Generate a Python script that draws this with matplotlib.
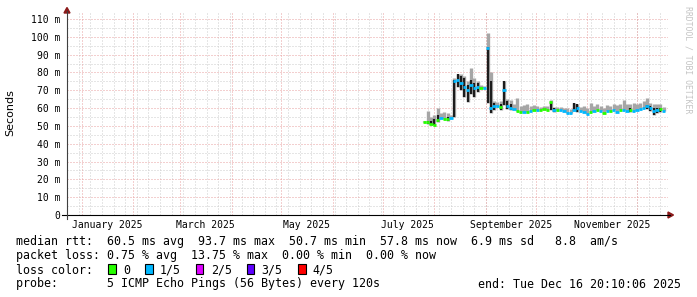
import numpy as np
import matplotlib
matplotlib.use('Agg')
import matplotlib.pyplot as plt
import matplotlib.dates as mdates
from matplotlib.collections import LineCollection
from matplotlib.lines import Line2D
from matplotlib.patches import Rectangle, Polygon

W, H = 697, 297

# smokeping samples, one every 2 days, in days after 2025-01-01
day = np.arange(206, 352, 2)
# median rtt (ms)
median = [52.2, 52.0, 51.0, 50.7, 53.5, 54.5, 54.0, 54.0, 54.5, 75.0,
          76.0, 74.0, 72.0, 70.0, 73.0, 71.0, 72.0, 71.5, 71.0, 93.7,
          60.0, 61.0, 61.0, 60.5, 70.0, 61.0, 60.0, 59.5, 58.5, 58.0,
          58.0, 58.0, 58.5, 59.0, 59.0, 59.0, 59.5, 59.0, 63.5, 59.0,
          59.0, 59.0, 58.5, 57.5, 57.0, 59.0, 60.0, 58.5, 58.0, 56.5,
          58.0, 58.5, 59.0, 58.5, 57.0, 58.5, 58.5, 59.0, 58.0, 59.0,
          59.0, 58.5, 59.0, 58.5, 59.0, 59.5, 60.0, 61.0, 60.0, 58.5,
          59.0, 59.5, 58.5]
# lost pings out of 5
loss = [0, 0, 0, 0, 0, 1, 0, 0, 1, 1,
        1, 1, 1, 1, 1, 1, 1, 0, 1, 1,
        1, 1, 1, 0, 1, 1, 1, 1, 0, 0,
        1, 0, 1, 0, 1, 0, 0, 0, 0, 1,
        0, 1, 1, 1, 1, 1, 1, 1, 1, 1,
        0, 1, 0, 1, 0, 1, 0, 1, 1, 0,
        1, 1, 0, 1, 1, 1, 1, 1, 1, 1,
        1, 0, 1]
# highest ping (light smoke top)
smoke_top = [53.0, 58.4, 55.0, 56.0, 60.2, 57.0, 58.0, 57.0, 56.0, 77.0,
             79.0, 79.0, 78.0, 75.0, 82.3, 77.0, 75.0, 73.0, 72.5, 102.0,
             80.0, 64.0, 63.5, 64.0, 75.0, 65.0, 64.5, 62.0, 65.5, 61.0,
             61.5, 62.0, 61.0, 61.5, 61.0, 60.5, 61.0, 61.0, 64.5, 60.5,
             60.5, 60.5, 60.0, 60.0, 59.5, 63.0, 62.5, 60.5, 61.0, 60.0,
             62.7, 61.0, 62.0, 61.0, 60.0, 61.5, 61.0, 62.0, 61.5, 62.0,
             64.5, 62.0, 62.5, 63.0, 62.0, 63.0, 64.0, 65.5, 63.0, 62.0,
             62.0, 62.0, 60.5]
nan = np.nan
# dense smoke range
dark_lo = [nan, 51.0, 50.5, 50.7, 52.0, nan, nan, 53.0, nan, 55.0,
           72.0, 70.0, 66.0, 63.6, 68.0, 66.0, 69.0, nan, nan, 63.0,
           57.0, 59.0, nan, 59.0, 61.7, 59.5, 59.0, nan, nan, nan,
           nan, nan, nan, nan, nan, nan, nan, nan, 59.0, 58.0,
           nan, nan, nan, nan, nan, 58.5, 58.0, nan, nan, nan,
           nan, nan, nan, nan, nan, nan, nan, nan, nan, nan,
           nan, nan, 58.0, nan, nan, nan, nan, 59.5, 58.5, 56.1,
           57.0, 58.0, nan]
dark_hi = [nan, 53.0, 53.0, 54.0, 56.0, nan, nan, 55.0, nan, 76.0,
           79.0, 78.0, 77.0, 73.0, 76.0, 74.0, 74.0, nan, nan, 94.0,
           75.0, 63.0, nan, 62.0, 75.0, 64.0, 62.0, nan, nan, nan,
           nan, nan, nan, nan, nan, nan, nan, nan, 63.6, 60.0,
           nan, nan, nan, nan, nan, 62.7, 62.0, nan, nan, nan,
           nan, nan, nan, nan, nan, nan, nan, nan, nan, nan,
           nan, nan, 60.0, nan, nan, nan, nan, 61.5, 61.0, 60.3,
           60.0, 60.0, nan]

month_labels = ['January 2025', 'March 2025', 'May 2025',
                'July 2025', 'September 2025', 'November 2025']
month_label_dates = ['2025-01-16', '2025-03-16', '2025-05-16',
                     '2025-07-16', '2025-09-16', '2025-11-16']
y_ticks = [0, 10, 20, 30, 40, 50, 60, 70, 80, 90, 100, 110]
y_ticklabels = ['0', '10 m', '20 m', '30 m', '40 m', '50 m', '60 m',
                '70 m', '80 m', '90 m', '100 m', '110 m']

legend_lines = [
    'median rtt:  60.5 ms avg  93.7 ms max  50.7 ms min  57.8 ms now  6.9 ms sd   8.8  am/s',
    'packet loss: 0.75 % avg  13.75 % max  0.00 % min  0.00 % now',
    'loss color:',
    'probe:       5 ICMP Echo Pings (56 Bytes) every 120s',
]
loss_names = ['0', '1/5', '2/5', '3/5', '4/5']
loss_colors = ['#26ff00', '#00b8ff', '#dd00ff', '#5e00ff', '#ff0000']
end_text = 'end: Tue Dec 16 20:10:06 2025'

MONO = 'DejaVu Sans Mono'


def px(x):
    return x / W


def py(y):
    return 1 - y / H


fig = plt.figure(figsize=(W / 100, H / 100), dpi=100)
fig.patch.set_facecolor('white')
ax = fig.add_axes([px(67), py(215), (668 - 67) / W, (215 - 12) / H])

t0 = np.datetime64('2025-01-01')
x0 = mdates.date2num(t0)
x = mdates.date2num(t0 + day.astype('timedelta64[D]'))
median = np.array(median)
smoke_top = np.array(smoke_top)
dark_lo = np.array(dark_lo)
dark_hi = np.array(dark_hi)

ax.set_xlim(x0 - 9.0, x0 + 352.6)
ax.set_ylim(0, 113.9)

# grid: weekly (Mondays) + monthly, 5 ms + 10 ms
weeks = mdates.date2num(np.arange(np.datetime64('2024-12-23'), np.datetime64('2025-12-20'),
                                  np.timedelta64(7, 'D')))
months = mdates.date2num(np.arange(np.datetime64('2025-01'), np.datetime64('2026-01')).astype('datetime64[D]'))
dots = (0, (1, 2))
xt = ax.get_xaxis_transform()
yt = ax.get_yaxis_transform()
ax.vlines(weeks, 0, 1, transform=xt, colors='#cccccc', linewidth=0.72, linestyles=dots, zorder=0)
ax.hlines(np.arange(5, 114, 10), 0, 1, transform=yt, colors='#cccccc', linewidth=0.72, linestyles=dots, zorder=0)
ax.vlines(months, 0, 1, transform=xt, colors='#e8a0a0', linewidth=0.72, linestyles=dots, zorder=1)
ax.hlines(y_ticks[1:], 0, 1, transform=yt, colors='#e8a0a0', linewidth=0.72, linestyles=dots, zorder=1)

# smoke
bottom = np.fmin(median, dark_lo)
ax.vlines(x, bottom, smoke_top, colors='#a6a6a6', linewidth=2.4, zorder=2)
ok = ~np.isnan(dark_lo)
ax.vlines(x[ok], dark_lo[ok], dark_hi[ok], colors='#1c1c1c', linewidth=1.6, zorder=3)

# median, coloured by loss
segs = [[(xi - 1, m), (xi + 1, m)] for xi, m in zip(x, median)]
cols = [loss_colors[l] for l in loss]
ax.add_collection(LineCollection(segs, colors=cols, linewidths=2.0, capstyle='butt', zorder=4))

for s in ax.spines.values():
    s.set_visible(False)
ax.set_yticks(y_ticks)
ax.set_yticklabels(y_ticklabels, family=MONO, fontsize=7)
ax.set_xticks(mdates.date2num(np.array(month_label_dates, dtype='datetime64[D]')))
ax.set_xticklabels(month_labels, family=MONO, fontsize=7)
ax.tick_params(axis='y', length=0, pad=5)
ax.tick_params(axis='x', length=0, pad=3.5)

# axes with arrows
fig.add_artist(Line2D([px(62), px(670)], [py(215), py(215)], color='black', lw=0.8,
                      transform=fig.transFigure))
fig.add_artist(Line2D([px(67), px(67)], [py(219), py(11)], color='#404040', lw=0.8,
                      transform=fig.transFigure))
fig.add_artist(Polygon([(px(64), py(13)), (px(70), py(13)), (px(67), py(7.5))], closed=True,
                       color='#8b1a1a', transform=fig.transFigure))
fig.add_artist(Polygon([(px(668), py(212)), (px(668), py(218)), (px(673.5), py(215))], closed=True,
                       color='#8b1a1a', transform=fig.transFigure))

fig.text(px(10.5), py(113), 'Seconds', rotation=90, ha='center', va='center',
         family='DejaVu Sans', fontsize=8)
fig.text(px(688), py(60), 'RRDTOOL / TOBI OETIKER', rotation=270, ha='center', va='center',
         family=MONO, fontsize=5.9, color='#c4c4c4')

baselines = [245.5, 259.5, 273.5, 287.5]
for line, b in zip(legend_lines, baselines):
    fig.text(px(16), py(b), line, family=MONO, fontsize=8.4, va='baseline')
fig.text(px(680.5), py(287.5), end_text, family=MONO, fontsize=8.4, va='baseline', ha='right')

box_x = [108.3, 145.0, 195.7, 246.7, 298.3]
name_x = [123.3, 160.0, 210.7, 261.7, 312.7]
for bx, nx, name, c in zip(box_x, name_x, loss_names, loss_colors):
    fig.add_artist(Rectangle((px(bx), py(274)), 7.5 / W, 10 / H, facecolor=c, edgecolor='black',
                             lw=0.8, transform=fig.transFigure))
    fig.text(px(nx), py(273.5), name, family=MONO, fontsize=8.4, va='baseline')

fig.savefig('out.png', dpi=100)
